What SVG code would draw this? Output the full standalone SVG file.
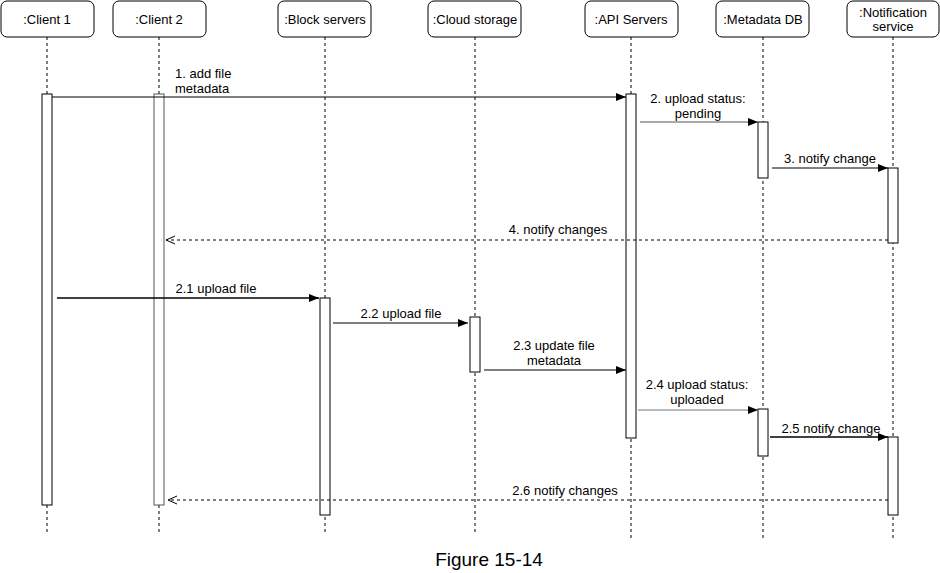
<svg xmlns="http://www.w3.org/2000/svg" width="940" height="573" viewBox="0 0 940 573">
<style>
.hdr rect{fill:#fff;stroke:#000;stroke-width:1}
.hdr text{font-family:"Liberation Sans",Arial,sans-serif;font-size:13px;text-anchor:middle;fill:#000}
.life{stroke:#000;stroke-width:1;stroke-dasharray:3,3;fill:none}
.act{fill:#fff;stroke:#000;stroke-width:1}
.msg{stroke:#000;stroke-width:1;fill:none}
.ret{stroke:#000;stroke-width:1;stroke-dasharray:3,3;fill:none}
.lbl{font-family:"Liberation Sans",Arial,sans-serif;font-size:13px;fill:#000}
.c{text-anchor:middle}
</style>
<defs>
<marker id="fill" markerWidth="10" markerHeight="8" refX="10" refY="4" orient="auto" markerUnits="userSpaceOnUse">
<path d="M0,0 L10,4 L0,8 Z" fill="#000"/>
</marker>
<marker id="open" markerWidth="10" markerHeight="10" refX="9" refY="5" orient="auto" markerUnits="userSpaceOnUse">
<path d="M0,1 L9,5 L0,9" fill="none" stroke="#000" stroke-width="1"/>
</marker>
</defs>
<rect width="940" height="573" fill="#fff"/>

<g id="client1" class="hdr">
<rect x="1" y="1" width="93" height="36" rx="6"/>
<text x="47" y="24">:Client 1</text>
<line class="life" x1="47" y1="37" x2="47" y2="533"/>
<rect class="act" x="42" y="94" width="10" height="411"/>
</g>
<g id="client2" class="hdr">
<rect x="113" y="1" width="93" height="36" rx="6"/>
<text x="159" y="24">:Client 2</text>
<line class="life" x1="159" y1="37" x2="159" y2="533"/>
<rect class="act" x="154" y="94" width="10" height="411" style="stroke:#555"/>
</g>
<g id="block" class="hdr">
<rect x="278" y="1" width="93" height="36" rx="6"/>
<text x="325" y="24">:Block servers</text>
<line class="life" x1="325" y1="37" x2="325" y2="533"/>
<rect class="act" x="320" y="298" width="10" height="217"/>
</g>
<g id="cloud" class="hdr">
<rect x="428" y="1" width="93" height="36" rx="6"/>
<text x="475" y="24">:Cloud storage</text>
<line class="life" x1="475" y1="37" x2="475" y2="533"/>
<rect class="act" x="470" y="317" width="10" height="55"/>
</g>
<g id="api" class="hdr">
<rect x="585" y="1" width="93" height="36" rx="6"/>
<text x="631" y="24">:API Servers</text>
<line class="life" x1="631" y1="37" x2="631" y2="540"/>
<rect class="act" x="626" y="94" width="10" height="344"/>
</g>
<g id="metadata" class="hdr">
<rect x="716" y="1" width="93" height="36" rx="6"/>
<text x="763" y="24">:Metadata DB</text>
<line class="life" x1="763" y1="37" x2="763" y2="540"/>
<rect class="act" x="758" y="122" width="10" height="56"/>
<rect class="act" x="758" y="409" width="10" height="47"/>
</g>
<g id="notification" class="hdr">
<rect x="847" y="1" width="92" height="36" rx="6"/>
<text x="893" y="17">:Notification</text>
<text x="893" y="31">service</text>
<line class="life" x1="893" y1="37" x2="893" y2="540"/>
<rect class="act" x="888" y="168" width="10" height="75"/>
<rect class="act" x="888" y="437" width="10" height="78"/>
</g>

<g id="connectors">
<line class="msg" x1="52" y1="97" x2="626" y2="97" marker-end="url(#fill)"/>
<line class="msg" x1="640" y1="122" x2="758" y2="122" marker-end="url(#fill)" style="stroke:#555"/>
<line class="msg" x1="772" y1="168" x2="888" y2="168" marker-end="url(#fill)"/>
<line class="ret" x1="888" y1="240" x2="166" y2="240" marker-end="url(#open)"/>
<line class="msg" x1="57" y1="298" x2="319" y2="298" marker-end="url(#fill)" style="stroke-width:1.3"/>
<line class="msg" x1="333" y1="323" x2="468" y2="323" marker-end="url(#fill)"/>
<line class="msg" x1="484" y1="370" x2="626" y2="370" marker-end="url(#fill)"/>
<line class="msg" x1="638" y1="410" x2="758" y2="410" marker-end="url(#fill)" style="stroke:#777"/>
<line class="msg" x1="770" y1="437" x2="888" y2="437" marker-end="url(#fill)" style="stroke-width:1.5"/>
<line class="ret" x1="888" y1="500" x2="168" y2="500" marker-end="url(#open)"/>
</g>

<g id="labels">
<text class="lbl" x="175" y="78">1. add file</text>
<text class="lbl" x="175" y="93">metadata</text>
<text class="lbl c" x="698" y="103">2. upload status:</text>
<text class="lbl c" x="698" y="118">pending</text>
<text class="lbl c" x="830" y="163">3. notify change</text>
<text class="lbl c" x="558" y="234">4. notify changes</text>
<text class="lbl c" x="216" y="293">2.1 upload file</text>
<text class="lbl c" x="401" y="318">2.2 upload file</text>
<text class="lbl c" x="554" y="350">2.3 update file</text>
<text class="lbl c" x="554" y="365">metadata</text>
<text class="lbl c" x="697" y="389">2.4 upload status:</text>
<text class="lbl c" x="697" y="404">uploaded</text>
<text class="lbl c" x="831" y="433">2.5 notify change</text>
<text class="lbl c" x="565" y="495">2.6 notify changes</text>
<text x="489" y="566" style="font-family:'Liberation Sans',Arial,sans-serif;font-size:19px;text-anchor:middle">Figure 15-14</text>
</g>
</svg>
